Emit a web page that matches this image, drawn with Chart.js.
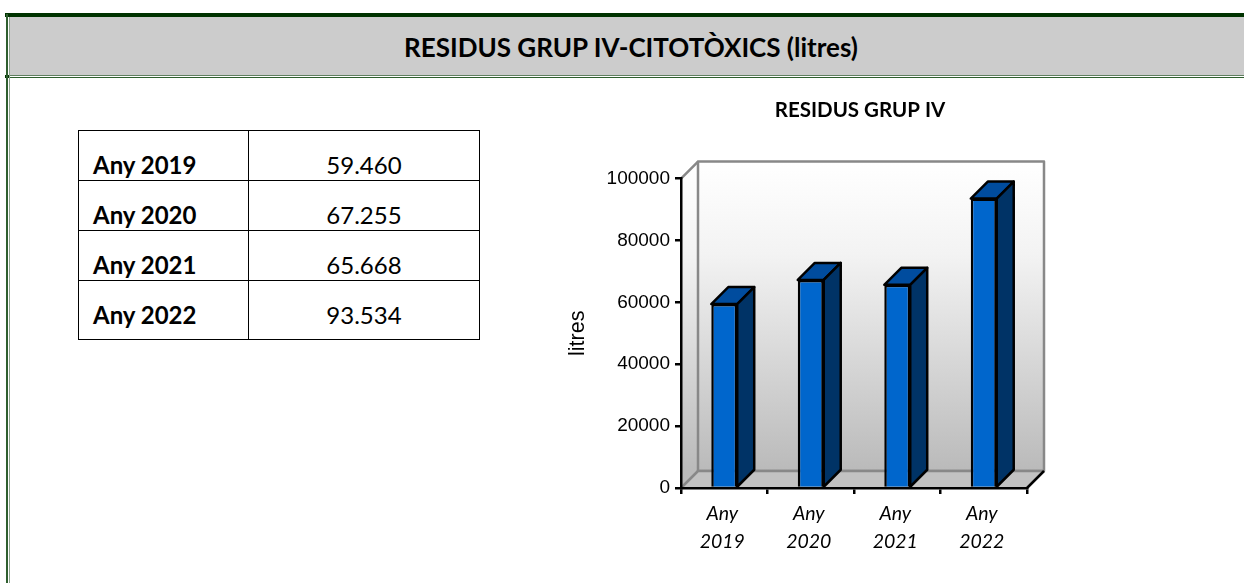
<!DOCTYPE html>
<html>
<head>
<meta charset="utf-8">
<title>Residus grup IV</title>
<script src="https://cdn.jsdelivr.net/npm/chart.js@4/dist/chart.umd.min.js"></script>
<style>
    html, body { margin: 0; padding: 0; background: #fff; overflow: hidden; }
    body { width: 1244px; height: 583px; position: relative; font-family: Lato, sans-serif; color: #000; }
    #topbar { position: absolute; left: 5px; top: 13px; right: 0; height: 4px; background: #003300; }
    #header {
        position: absolute; left: 9px; top: 17px; right: 0; height: 58px; background: #cccccc;
        border-bottom: 1px solid #5f7f5f; text-align: center; line-height: 60px;
        font-weight: bold; font-size: 26px; padding-left: 9px;
    }
    #rule { position: absolute; left: 5px; top: 77px; right: 0; height: 1px; background: #2f5f2f; }
    #rule2 { position: absolute; left: 5px; top: 75px; width: 4px; height: 3px; background: #003300; }
    #leftA { position: absolute; left: 6px; top: 14px; width: 2px; height: 569px; background: #2f5f2f; }
    #leftB { position: absolute; left: 9px; top: 17px; width: 1px; height: 566px; background: #8fa58f; }
    #dataTable {
        position: absolute; left: 78px; top: 130px; width: 402px; height: 210px;
        border-collapse: collapse; font-size: 24px; table-layout: fixed;
    }
    #dataTable td { border: 1px solid #000; padding: 0; box-sizing: border-box; vertical-align: bottom; line-height: 30px; padding-bottom: 0; }
    #dataTable td.year { width: 170px; font-weight: bold; padding-left: 14px; }
    #dataTable td.val { text-align: center; }
    #dataTable tr:last-child td { padding-bottom: 9px; }
    #chartBox { position: absolute; left: 559.5px; top: 91px; width: 600px; height: 470px; }
</style>
</head>
<body>
<div id="header">RESIDUS GRUP IV-CITOTÒXICS (litres)</div>
<div id="topbar"></div>
<div id="rule"></div>
<div id="rule2"></div>
<div id="leftA"></div>
<div id="leftB"></div>
<table id="dataTable"><tbody id="tableBody"></tbody></table>
<div id="chartBox"><canvas id="residusChart" width="600" height="470"></canvas></div>

<script>
var years = ['2019', '2020', '2021', '2022'];
var litres = [59460, 67255, 65668, 93534];
var yTicks = [0, 20000, 40000, 60000, 80000, 100000];
var depth = 17;

function formatLitres(value) {
    return String(value).replace(/\B(?=\d{3}$)/, '.');
}

var rows = '';
for (var i = 0; i < years.length; i++) {
    var rowHeight = i === years.length - 1 ? 59 : 50;
    rows += '<tr style="height:' + rowHeight + 'px"><td class="year">Any ' + years[i] + '</td><td class="val">' + formatLitres(litres[i]) + '</td></tr>';
}
document.getElementById('tableBody').innerHTML = rows;

function poly(ctx, points, fill, stroke, lineWidth) {
    ctx.beginPath();
    ctx.moveTo(points[0][0], points[0][1]);
    for (var p = 1; p < points.length; p++) {
        ctx.lineTo(points[p][0], points[p][1]);
    }
    ctx.closePath();
    if (fill) {
        ctx.fillStyle = fill;
        ctx.fill();
    }
    if (stroke) {
        ctx.strokeStyle = stroke;
        ctx.lineWidth = lineWidth;
        ctx.lineJoin = 'round';
        ctx.stroke();
    }
}

// the box behind the bars, taken from the chart area
var wallsPlugin = {
    id: 'walls',
    beforeDraw: function (chart) {
        var ctx = chart.ctx;
        var a = chart.chartArea;
        var grad = ctx.createLinearGradient(0, a.top - depth, 0, a.bottom - depth);
        grad.addColorStop(0, '#ffffff');
        grad.addColorStop(0.3, '#f3f3f3');
        grad.addColorStop(1, '#bababa');
        ctx.save();
        poly(ctx, [[a.left, a.top], [a.left + depth, a.top - depth], [a.left + depth, a.bottom - depth], [a.left, a.bottom]], grad);
        poly(ctx, [[a.left + depth, a.top - depth], [a.right + depth, a.top - depth], [a.right + depth, a.bottom - depth], [a.left + depth, a.bottom - depth]], grad, '#888888', 2.5);
        poly(ctx, [[a.left, a.bottom], [a.left + depth, a.bottom - depth], [a.right + depth, a.bottom - depth], [a.right, a.bottom]], '#c2c2c2');
        ctx.strokeStyle = '#888888';
        ctx.lineWidth = 2.5;
        ctx.beginPath();
        ctx.moveTo(a.left, a.top);
        ctx.lineTo(a.left + depth, a.top - depth);
        ctx.moveTo(a.left, a.bottom);
        ctx.lineTo(a.left + depth, a.bottom - depth);
        ctx.lineTo(a.right + depth, a.bottom - depth);
        ctx.stroke();
        ctx.strokeStyle = '#000000';
        ctx.beginPath();
        ctx.moveTo(a.right, a.bottom);
        ctx.lineTo(a.right + depth, a.bottom - depth);
        ctx.stroke();
        ctx.restore();
    }
};

// top and side of each bar, from the bar elements
var barSidesPlugin = {
    id: 'barSides',
    afterDatasetsDraw: function (chart) {
        var ctx = chart.ctx;
        ctx.save();
        chart.getDatasetMeta(0).data.forEach(function (bar) {
            var l = bar.x - bar.width / 2;
            var r = bar.x + bar.width / 2;
            poly(ctx, [[l, bar.y], [l + depth, bar.y - depth], [r + depth, bar.y - depth], [r, bar.y]], '#004c9e', '#000000', 2.5);
            poly(ctx, [[r, bar.y], [r + depth, bar.y - depth], [r + depth, bar.base - depth], [r, bar.base]], '#003366', '#000000', 2.5);
        });
        ctx.restore();
    }
};

var ctx = document.getElementById('residusChart');
var myChart = new Chart(ctx, {
    type: 'bar',
    data: {
        labels: years.map(function (y) { return ['Any', y]; }),
        datasets: [{
            label: 'litres',
            data: litres,
            backgroundColor: '#0066cc',
            borderColor: '#000000',
            borderWidth: 2.5,
            barPercentage: 0.3,
            categoryPercentage: 1
        }]
    },
    plugins: [wallsPlugin, barSidesPlugin],
    options: {
        responsive: false,
        animation: false,
        plugins: {
            legend: { display: false },
            tooltip: { enabled: false },
            title: {
                display: true,
                text: 'RESIDUS GRUP IV',
                color: '#000000',
                font: { family: 'Lato', size: 20.5, weight: 'bold' },
                padding: { top: 7, bottom: 56 }
            }
        },
        scales: {
            x: {
                afterFit: function (scale) { scale.height = 73; },
                grid: { drawOnChartArea: false, color: '#000000', lineWidth: 2.5, tickLength: 6, tickColor: '#000000' },
                border: { color: '#000000', width: 2.5 },
                ticks: {
                    color: '#000000',
                    maxRotation: 0,
                    autoSkip: false,
                    padding: 6,
                    labelOffset: -2,
                    font: { family: 'Lato', size: 19.5, style: 'italic', lineHeight: 1.44 }
                }
            },
            y: {
                min: 0,
                max: 100000,
                afterFit: function (scale) { scale.width = 121; },
                afterBuildTicks: function (scale) {
                    scale.ticks = yTicks.map(function (v) { return { value: v }; });
                },
                title: {
                    display: true,
                    text: 'litres',
                    color: '#000000',
                    font: { family: 'Liberation Sans', size: 21.5 },
                    padding: { top: 5, bottom: 0 }
                },
                grid: { drawOnChartArea: false, color: '#000000', lineWidth: 2.5, tickLength: 6, tickColor: '#000000' },
                border: { color: '#000000', width: 2.5 },
                ticks: {
                    color: '#000000',
                    padding: 5,
                    font: { family: 'Liberation Sans', size: 19 },
                    callback: function (value) { return String(value); }
                }
            },
            // empty axis that keeps the blank space right of the box
            spacer: {
                position: 'right',
                afterFit: function (scale) { scale.width = 133; },
                ticks: { display: false },
                grid: { display: false },
                border: { display: false }
            }
        }
    }
});
</script>
</body>
</html>
